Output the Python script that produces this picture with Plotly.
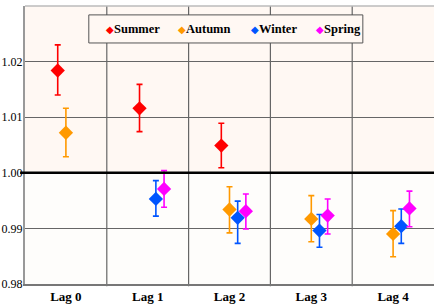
import plotly.graph_objects as go

lags = ["Lag 0", "Lag 1", "Lag 2", "Lag 3", "Lag 4"]
seasons = ["Summer", "Autumn", "Winter", "Spring"]
colors = ["#FF0000", "#FF9900", "#0055FF", "#FF00FF"]
offsets = [-0.1, 0.0, 0.1, 0.2]

# Point estimates (None = not shown)
summer = [1.0184, 1.0116, 1.0049, None, None]
autumn = [1.0072, None, 0.9934, 0.9917, 0.9890]
winter = [None, 0.9953, 0.9919, 0.9896, 0.9904]
spring = [None, 0.9971, 0.9931, 0.9923, 0.9936]

summer_hi = [1.0230, 1.0159, 1.0089, None, None]
autumn_hi = [1.0116, None, 0.9975, 0.9959, 0.9932]
winter_hi = [None, 0.9986, 0.9949, 0.9925, 0.9935]
spring_hi = [None, 1.0004, 0.9962, 0.9953, 0.9967]

summer_lo = [1.0140, 1.0074, 1.0009, None, None]
autumn_lo = [1.0029, None, 0.9892, 0.9876, 0.9849]
winter_lo = [None, 0.9922, 0.9873, 0.9866, 0.9873]
spring_lo = [None, 0.9938, 0.9899, 0.9890, 0.9903]

values = [summer, autumn, winter, spring]
highs = [summer_hi, autumn_hi, winter_hi, spring_hi]
lows = [summer_lo, autumn_lo, winter_lo, spring_lo]

SERIF = "Times New Roman, Liberation Serif, serif"

fig = go.Figure()

# background bands
fig.add_shape(type="rect", xref="paper", yref="y", x0=0, x1=1, y0=1.0, y1=1.03,
              fillcolor="#FFF8F3", line_width=0, layer="below")
fig.add_shape(type="rect", xref="paper", yref="y", x0=0, x1=1, y0=0.98, y1=1.0,
              fillcolor="#FEFDFB", line_width=0, layer="below")

for name, col, off, v, hi, lo in zip(seasons, colors, offsets, values, highs, lows):
    xs, ys, ep, em = [], [], [], []
    for i, val in enumerate(v):
        if val is None:
            continue
        xs.append(i + off)
        ys.append(val)
        ep.append(hi[i] - val)
        em.append(val - lo[i])
    fig.add_trace(go.Scatter(
        x=xs, y=ys, mode="markers", name=name, showlegend=False,
        marker=dict(symbol="diamond", size=11, color=col),
        error_y=dict(type="data", symmetric=False, array=ep, arrayminus=em,
                     color=col, thickness=1.6, width=3),
    ))

# vertical separators between lag categories
for i in range(len(lags) - 1):
    fig.add_shape(type="line", xref="x", yref="paper", x0=i + 0.5, x1=i + 0.5,
                  y0=-0.008, y1=1, line=dict(color="#666666", width=1.2), layer="below")

# reference line at 1.00
fig.add_shape(type="line", xref="paper", yref="y", x0=-0.012, x1=1, y0=1.0, y1=1.0,
              line=dict(color="#000000", width=2.5))
# top border
fig.add_shape(type="line", xref="paper", yref="paper", x0=0, x1=1, y0=1, y1=1,
              line=dict(color="#BBBBBB", width=1.5))

# legend box (drawn as layout shape + text annotations)
fig.add_shape(type="rect", xref="paper", yref="paper", x0=0.156, x1=0.826,
              y0=0.867, y1=0.968, fillcolor="#FFF8F3",
              line=dict(color="#555555", width=1))
leg_x = [0.192, 0.370, 0.547, 0.706]
for name, col, lx in zip(seasons, colors, leg_x):
    fig.add_annotation(
        xref="paper", yref="paper", x=lx, y=0.917, xanchor="left", yanchor="middle",
        showarrow=False,
        text=f"<span style='color:{col};font-size:10px'>◆</span><b>{name}</b>",
        font=dict(family=SERIF, size=12.5, color="black"),
    )

fig.update_layout(
    width=434, height=306,
    margin=dict(l=25, r=0, t=6, b=22),
    paper_bgcolor="white",
    plot_bgcolor="rgba(0,0,0,0)",
    showlegend=False,
    font=dict(family=SERIF, size=13, color="black"),
)

fig.update_xaxes(range=[-0.5, 4.5], tickvals=[0, 1, 2, 3, 4], ticktext=lags,
                 showgrid=False, zeroline=False, showline=True,
                 linecolor="#777777", linewidth=1.5,
                 tickfont=dict(family=SERIF, size=13, color="black", weight="bold"),
                 ticks="", automargin=False, fixedrange=True)
fig.update_yaxes(range=[0.98, 1.03], dtick=0.01, tickformat=".2f",
                 showgrid=True, gridcolor="#666666", gridwidth=1,
                 zeroline=False, showline=True, linecolor="#999999", linewidth=2,
                 ticks="", ticklabelstandoff=-2,
                 tickfont=dict(family=SERIF, size=12, color="black"),
                 automargin=False, fixedrange=True)

fig.write_html("out.html", config={"displayModeBar": False},
               post_script="document.body.style.margin='0';document.body.style.overflow='hidden';")
